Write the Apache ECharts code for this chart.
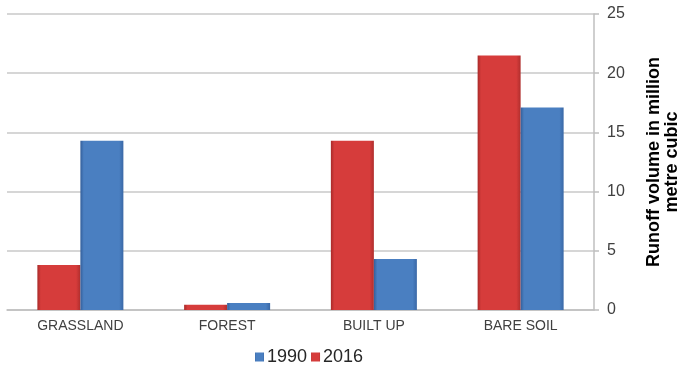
<!DOCTYPE html>
<html>
<head>
<meta charset="utf-8">
<script src="https://cdn.jsdelivr.net/npm/echarts@6/dist/echarts.min.js"></script>
<style>
html,body{margin:0;padding:0;background:#fff;}
#c{width:689px;height:365px;}
</style>
</head>
<body>
<div id="c"></div>
<script>
var categories = ['GRASSLAND', 'FOREST', 'BUILT UP', 'BARE SOIL'];
var values1990 = [14.3, 0.6, 4.3, 17.1];
var values2016 = [3.8, 0.45, 14.3, 21.5];
var yTicks = [0, 5, 10, 15, 20, 25];
var legendNames = ['1990', '2016'];

function grad(edge, mid, edge2) {
  return new echarts.graphic.LinearGradient(0, 0, 1, 0, [
    {offset: 0, color: edge},
    {offset: 0.08, color: mid},
    {offset: 0.9, color: mid},
    {offset: 1, color: edge2}
  ]);
}
var redFill = grad('#a82a29', '#d63c3b', '#b02e2d');
var blueFill = grad('#345f9a', '#4a7fc1', '#3a68a6');

var chart = echarts.init(document.getElementById('c'), null, {renderer: 'canvas'});
chart.setOption({
  animation: false,
  backgroundColor: '#ffffff',
  textStyle: {fontFamily: 'Liberation Sans, Arial, sans-serif'},
  grid: {left: 7, right: 88, top: 14, bottom: 55, containLabel: false},
  legend: {
    data: legendNames,
    left: 250,
    top: 343,
    icon: 'rect',
    itemWidth: 9,
    itemHeight: 9,
    itemGap: 4,
    textStyle: {fontSize: 18, color: '#262626', padding: [0, 0, 0, -2]}
  },
  xAxis: {
    type: 'category',
    data: categories,
    axisLine: {lineStyle: {color: '#bfbfbf', width: 1.5}},
    axisTick: {show: false},
    axisLabel: {fontSize: 14, color: '#404040', margin: 9}
  },
  yAxis: {
    type: 'value',
    position: 'right',
    min: yTicks[0],
    max: yTicks[yTicks.length - 1],
    interval: 5,
    axisLine: {show: true, lineStyle: {color: '#bfbfbf', width: 1.5}},
    axisTick: {show: true, inside: false, length: 5, lineStyle: {color: '#bfbfbf', width: 1.5}},
    splitLine: {lineStyle: {color: '#c8c8c8', width: 1.5}},
    axisLabel: {fontSize: 16, color: '#404040', margin: 13},
    name: 'Runoff volume in million\nmetre cubic',
    nameLocation: 'middle',
    nameRotate: 90,
    nameGap: 51,
    nameTextStyle: {fontSize: 18, fontWeight: 'bold', color: '#000', lineHeight: 18, align: 'center'}
  },
  series: [
    {
      name: '2016',
      type: 'bar',
      data: values2016,
      barWidth: 43,
      barGap: '0%',
      itemStyle: {color: redFill}
    },
    {
      name: '1990',
      type: 'bar',
      data: values1990,
      barWidth: 43,
      barGap: '0%',
      itemStyle: {color: blueFill}
    }
  ]
});
</script>
</body>
</html>
